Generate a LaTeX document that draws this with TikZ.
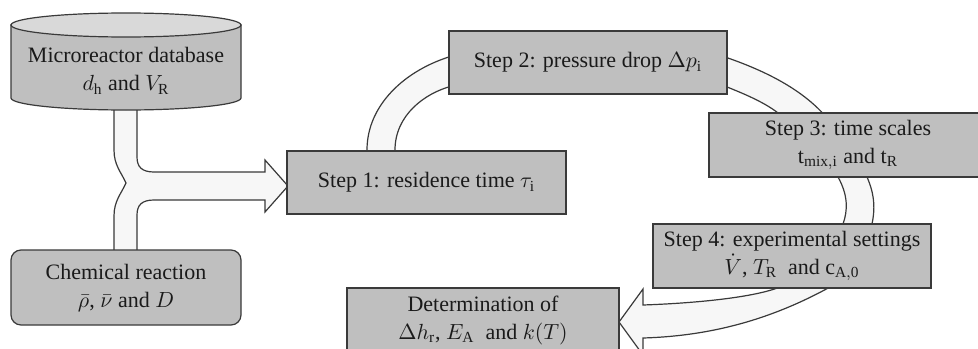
\documentclass[tikz,border=0pt]{standalone}
\usepackage{fontspec}
\setmainfont{Liberation Serif}
\definecolor{boxgray}{HTML}{BFBFBF}
\definecolor{topgray}{HTML}{D9D9D9}
\definecolor{pipefill}{HTML}{F7F7F7}
\definecolor{edge}{HTML}{3A3A3A}
\definecolor{ink}{HTML}{1A1A1A}
\tikzset{
  stepbox/.style={draw=edge, fill=boxgray, line width=0.6pt, inner sep=0pt,
    align=center, text=ink, font=\fontsize{11}{14}\selectfont},
  fat/.style={draw=edge, fill=pipefill, line width=0.6pt, line join=miter},
}
\begin{document}
\begin{tikzpicture}[x=0.5pt,y=-0.5pt]
\useasboundingbox (0,0) rectangle (978,348);
\clip (0,0) rectangle (978,348);
\fill[white] (0,0) rectangle (978,348);
% merged fat arrow from database and reaction to step 1
\path[fat] (114,100) -- (114,150)
  .. controls (114,165) and (121,172) .. (126,183)
  .. controls (121,194) and (114,201) .. (114,216)
  -- (114,258) -- (137,258) -- (137,215)
  .. controls (137,205) and (142,200) .. (154,200)
  -- (265,200) -- (265,212) -- (288,186) -- (265,160) -- (265,172)
  -- (154,172)
  .. controls (142,172) and (137,167) .. (137,157)
  -- (137,100) -- cycle;
% step1 -> step2
\path[fat] (367,160) -- (367,150) .. controls (367,105) and (405,70) .. (452,56)
  -- (452,86) .. controls (425,93) and (395,115) .. (395,150) -- (395,160) -- cycle;
% step2 -> step3
\path[fat] (722,56) .. controls (770,72) and (805,92) .. (827,118)
  -- (784,118) .. controls (770,105) and (750,96) .. (722,85) -- cycle;
% step3 -> step4
\path[fat] (838,170) -- (838,177) .. controls (848,195) and (848,210) .. (843,224)
  -- (843,232) -- (872,232) -- (872,224)
  .. controls (875,210) and (875,195) .. (867,177) -- (867,170) -- cycle;
% step4 -> determination
\path[fat] (780,280) -- (780,287) .. controls (755,297) and (700,303) .. (643,305)
  -- (643,289) -- (619,322) -- (643,355) -- (643,338)
  .. controls (710,336) and (770,320) .. (830,287) -- (836,280) -- cycle;
% cylinder (microreactor database)
\path[draw=edge, fill=boxgray, line width=0.6pt] (11,25) -- (11,98)
  arc[start angle=180, end angle=0, x radius=115, y radius=12] -- (241,25) -- cycle;
\path[draw=edge, fill=topgray, line width=0.6pt] (126,25) ellipse [x radius=115, y radius=12];
\node[align=center, text=ink, font=\fontsize{11}{14}\selectfont] (db) at (126,71)
  {Microreactor database\\$d_{\mathrm{h}}$ and $V_{\mathrm{R}}$};
% chemical reaction
\node[stepbox, rounded corners=5pt, minimum width=115pt, minimum height=37.5pt] (chem) at (126,287.5)
  {Chemical reaction\\$\bar{\rho}$, $\bar{\nu}$ and $D$};
% steps
\node[stepbox, minimum width=139.5pt, minimum height=31.5pt] (s1) at (426.5,182.5)
  {Step 1: residence time $\tau_{\mathrm{i}}$};
\node[stepbox, minimum width=139pt, minimum height=31.5pt] (s2) at (588,62.5)
  {Step 2: pressure drop $\Delta p_{\mathrm{i}}$};
\node[stepbox, minimum width=139pt, minimum height=32pt] (s3) at (848,145)
  {Step 3: time scales\\$\mathrm{t}_{\mathrm{mix,i}}$ and $\mathrm{t}_{\mathrm{R}}$};
\node[stepbox, minimum width=139pt, minimum height=32pt] (s4) at (792,256)
  {Step 4: experimental settings\\$\dot{V}$, $T_{\mathrm{R}}$\ \ and $\mathrm{c}_{\mathrm{A,0}}$};
\node[stepbox, minimum width=136pt, minimum height=32pt] (det) at (483,320)
  {Determination of\\$\Delta h_{\mathrm{r}}$, $E_{\mathrm{A}}$\ \ and $k(T)$};
\end{tikzpicture}
\end{document}
